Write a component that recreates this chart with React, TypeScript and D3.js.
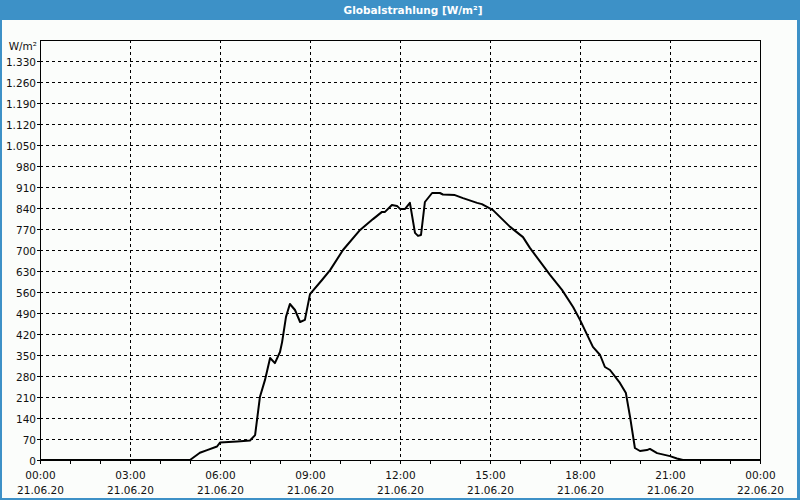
import React from "react";
import * as d3 from "d3";

const title = "Globalstrahlung [W/m²]";
const unitLabel = "W/m²";
const yTicks = [0, 70, 140, 210, 280, 350, 420, 490, 560, 630, 700, 770, 840, 910, 980, 1050, 1120, 1190, 1260, 1330];
const xMajorHours = [0, 3, 6, 9, 12, 15, 18, 21, 24];
const xTimeLabels = ["00:00", "03:00", "06:00", "09:00", "12:00", "15:00", "18:00", "21:00", "00:00"];
const xDateLabels = ["21.06.20", "21.06.20", "21.06.20", "21.06.20", "21.06.20", "21.06.20", "21.06.20", "21.06.20", "22.06.20"];
const xMinorHours = d3.range(0, 25, 1);

const hours = [0, 5.0, 5.33, 5.57, 5.9, 6.0, 6.57, 7.0, 7.17, 7.33, 7.5, 7.67, 7.83, 8.0, 8.07, 8.2, 8.33, 8.5, 8.67, 8.83, 9.0, 9.4, 9.67, 10.1, 10.67, 11.1, 11.4, 11.5, 11.73, 11.9, 12.0, 12.17, 12.33, 12.5, 12.6, 12.7, 12.83, 13.07, 13.33, 13.43, 13.83, 14.1, 14.57, 14.73, 15.1, 15.67, 16.1, 16.33, 17.0, 17.4, 17.77, 18.0, 18.43, 18.67, 18.83, 19.0, 19.33, 19.53, 19.67, 19.83, 20.0, 20.23, 20.33, 20.57, 21.0, 21.23, 21.43, 24];
const values = [0, 0, 24, 33, 45, 58, 62, 65, 83, 210, 267, 340, 323, 360, 393, 477, 520, 500, 460, 467, 553, 600, 633, 700, 767, 803, 827, 827, 850, 847, 837, 837, 857, 757, 747, 750, 860, 890, 890, 885, 883, 873, 857, 853, 833, 777, 743, 707, 617, 567, 510, 467, 377, 350, 310, 300, 257, 223, 143, 40, 30, 33, 37, 23, 13, 5, 0, 0];

const BLUE = "#3d91c7";
const FONT = "'DejaVu Sans', Verdana, sans-serif";

const locale = d3.formatLocale({ decimal: ",", thousands: ".", grouping: [3], currency: ["", ""] });
const fmt = locale.format(",d");

export default function App() {
  const W = 800, H = 500;
  const left = 40, right = 760, top = 40, bottom = 460;
  const x = d3.scaleLinear().domain([0, 24]).range([left, right]);
  const y = d3.scaleLinear().domain([0, 1400]).range([bottom, top]);
  const pts: [number, number][] = hours.map((h, i) => [h, values[i]]);
  const line = d3.line<[number, number]>().x(d => x(d[0])).y(d => y(d[1]));

  return (
    <svg width={W} height={H} style={{ position: "fixed", left: 0, top: 0, display: "block" }} fontFamily={FONT}>
      <rect x={0} y={0} width={W} height={H} fill="#fbfdfb" />
      <rect x={0} y={0} width={W} height={20} fill={BLUE} />
      <rect x={0} y={20} width={2} height={H - 20} fill={BLUE} />
      <rect x={W - 3} y={20} width={3} height={H - 20} fill={BLUE} />
      <rect x={0} y={H - 2} width={W} height={2} fill={BLUE} />
      <text x={413} y={14} textAnchor="middle" fill="#fff" fontWeight="bold" fontSize={10.5}>{title}</text>

      {yTicks.filter(t => t > 0).map(t => (
        <line key={"gy" + t} x1={left} x2={right} y1={y(t) + 0.5} y2={y(t) + 0.5} stroke="#000" strokeDasharray="3,3" strokeWidth={1} />
      ))}
      {xMajorHours.filter(h => h > 0 && h < 24).map(h => (
        <line key={"gx" + h} x1={x(h) + 0.5} x2={x(h) + 0.5} y1={top} y2={bottom} stroke="#000" strokeDasharray="3,3" strokeWidth={1} />
      ))}

      <rect x={left + 0.5} y={top + 0.5} width={right - left} height={bottom - top} fill="none" stroke="#000" strokeWidth={1} />

      {yTicks.map(t => (
        <g key={"ty" + t}>
          <line x1={left - 3} x2={left} y1={y(t) + 0.5} y2={y(t) + 0.5} stroke="#000" />
          <text x={36} y={y(t) + 4.5} textAnchor="end" fontSize={10.5} fill="#111">{fmt(t)}</text>
        </g>
      ))}
      <text x={37} y={50} textAnchor="end" fontSize={10.5} fill="#111">{unitLabel}</text>

      {xMinorHours.map(h => (
        <line key={"tx" + h} x1={x(h) + 0.5} x2={x(h) + 0.5} y1={bottom} y2={bottom + 4} stroke="#000" />
      ))}
      {xMajorHours.map((h, i) => (
        <g key={"lx" + i}>
          <text x={x(h) + 0.5} y={479} textAnchor="middle" fontSize={10.5} fill="#111">{xTimeLabels[i]}</text>
          <text x={x(h) + 0.5} y={494} textAnchor="middle" fontSize={10.5} fill="#111">{xDateLabels[i]}</text>
        </g>
      ))}

      <path d={line(pts) || ""} fill="none" stroke="#000" strokeWidth={2} strokeLinejoin="round" />
    </svg>
  );
}
